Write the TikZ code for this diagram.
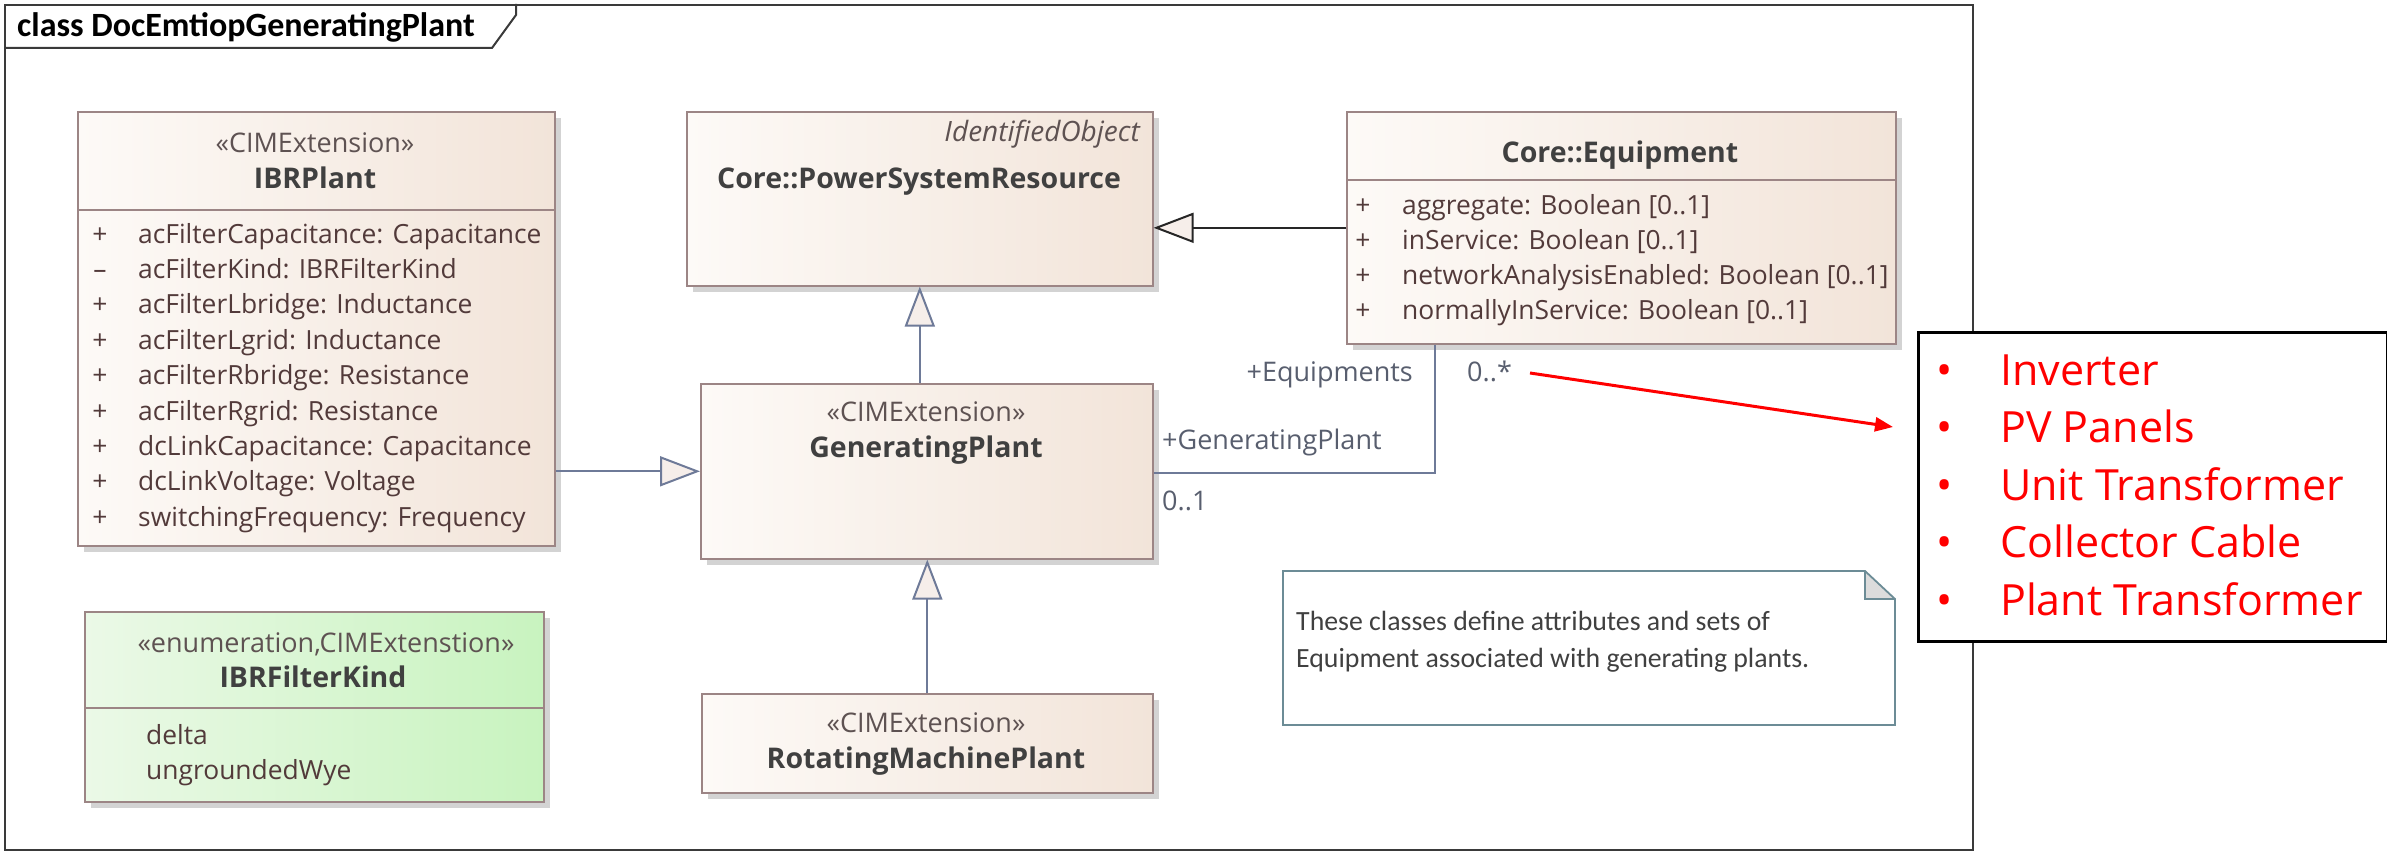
\documentclass[tikz,border=0pt]{standalone}
\usepackage{fontspec}
\setmainfont{Open Sans}
\newfontfamily\carlito{Carlito}
\usetikzlibrary{arrows.meta,shadows}

\definecolor{boxline}{HTML}{9C8585}
\definecolor{boxL}{HTML}{FDFAF7}
\definecolor{boxR}{HTML}{F2E4D9}
\definecolor{enumL}{HTML}{EBF9E7}
\definecolor{enumR}{HTML}{C8F3BF}
\definecolor{attrc}{HTML}{523A3A}
\definecolor{namec}{HTML}{404040}
\definecolor{stereoc}{HTML}{5E5252}
\definecolor{conn}{HTML}{6E7A98}
\definecolor{labc}{HTML}{585E6E}
\definecolor{shadowc}{HTML}{D3D3D3}
\definecolor{notec}{HTML}{6C8C96}
\definecolor{foldc}{HTML}{DCDCDC}
\definecolor{framec}{HTML}{3A3A3A}
\definecolor{tipfill}{HTML}{F6EEEA}

\begin{document}
\begin{tikzpicture}[x=1pt,y=-1pt,
  classbox/.style={draw=boxline, line width=1.6pt, left color=boxL, right color=boxR,
    drop shadow={shadow xshift=6pt, shadow yshift=-6pt, fill=shadowc, opacity=1},
    anchor=north west, inner sep=0pt},
  enumbox/.style={classbox, left color=enumL, right color=enumR},
  sep/.style={draw=boxline, line width=1.6pt},
  attr/.style={font=\fontsize{26.4}{30}\selectfont, text=attrc, inner sep=0pt},
  stereo/.style={font=\fontsize{27}{30}\selectfont, text=stereoc, inner sep=0pt, anchor=base},
  cname/.style={font=\fontsize{28.5}{30}\selectfont\bfseries, text=namec, inner sep=0pt, anchor=base},
  lab/.style={font=\fontsize{27}{30}\selectfont, text=labc, inner sep=0pt},
  gen/.style={draw=conn, line width=2pt, -{Triangle[length=40pt,width=30pt,fill=tipfill,line width=2pt]}},
  genblack/.style={gen, draw=black!85},
  assoc/.style={draw=conn, line width=2pt},
  redlist/.style={font=\fontsize{43}{50}\selectfont, text=red, inner sep=0pt},
]
\useasboundingbox (0,0) rectangle (2387,851);

% diagram frame with its name tab
\node[draw=framec, line width=2pt, minimum width=1968pt, minimum height=845pt,
      anchor=north west, inner sep=0pt] (frame) at (4,4) {};
\coordinate (tabA) at (492,48);
\coordinate (tabB) at (516,15);
\draw[framec, line width=2pt] (frame.north west |- tabA) -- (tabA) -- (tabB) -- (tabB |- frame.north);
\node[font=\fontsize{34}{38}\selectfont\carlito\bfseries, text=black, inner sep=0pt, anchor=base west]
  (title) at (17,37) {class DocEmtiopGeneratingPlant};

% IBRPlant
\node[classbox, minimum width=477pt, minimum height=434pt] (ibr) at (77,111) {};
\node[stereo] (ibrS) at (315,152) {«CIMExtension»};
\node[cname] (ibrN) at (315,188) {IBRPlant};
\coordinate (ibrSep) at (0,210);
\draw[sep] (ibr.west |- ibrSep) -- (ibr.east |- ibrSep);
\foreach \v/\t [count=\i] in {+/acFilterCapacitance: Capacitance,
    –/acFilterKind: IBRFilterKind,
    +/acFilterLbridge: Inductance,
    +/acFilterLgrid: Inductance,
    +/acFilterRbridge: Resistance,
    +/acFilterRgrid: Resistance,
    +/dcLinkCapacitance: Capacitance,
    +/dcLinkVoltage: Voltage,
    +/switchingFrequency: Frequency} {
  \node[attr, anchor=base] (ibrV\i) at (100,{243+35.4*(\i-1)}) {\v};
  \node[attr, anchor=base west] (ibrA\i) at (138,{243+35.4*(\i-1)}) {\t};
}

% Core::PowerSystemResource
\node[classbox, minimum width=466pt, minimum height=174pt] (psr) at (686,111) {};
\node[font=\fontsize{28}{30}\selectfont\itshape, text=stereoc, inner sep=0pt, anchor=base east]
  (psrP) at (1140,141) {IdentifiedObject};
\node[cname] (psrN) at (919,188) {Core::PowerSystemResource};

% GeneratingPlant
\node[classbox, minimum width=452pt, minimum height=175pt] (gp) at (700,383) {};
\node[stereo] (gpS) at (926,421) {«CIMExtension»};
\node[cname] (gpN) at (926,457) {GeneratingPlant};

% RotatingMachinePlant
\node[classbox, minimum width=451pt, minimum height=99pt] (rmp) at (701,693) {};
\node[stereo] (rmpS) at (926,732) {«CIMExtension»};
\node[cname] (rmpN) at (926,768) {RotatingMachinePlant};

% Core::Equipment
\node[classbox, minimum width=549pt, minimum height=232pt] (eq) at (1346,111) {};
\node[cname] (eqN) at (1620,162) {Core::Equipment};
\coordinate (eqSep) at (0,180);
\draw[sep] (eq.west |- eqSep) -- (eq.east |- eqSep);
\foreach \t [count=\i] in {aggregate: Boolean [0..1],
    inService: Boolean [0..1],
    networkAnalysisEnabled: Boolean [0..1],
    normallyInService: Boolean [0..1]} {
  \node[attr, anchor=base] (eqV\i) at (1363,{214+35.2*(\i-1)}) {+};
  \node[attr, anchor=base west] (eqA\i) at (1402,{214+35.2*(\i-1)}) {\t};
}

% IBRFilterKind enumeration
\node[enumbox, minimum width=459pt, minimum height=190pt] (enum) at (84,611) {};
\node[stereo] (enumS) at (326,652) {«enumeration,CIMExtenstion»};
\node[cname] (enumN) at (313,687) {IBRFilterKind};
\coordinate (enumSep) at (0,708);
\draw[sep] (enum.west |- enumSep) -- (enum.east |- enumSep);
\node[attr, anchor=base west] (enumL1) at (146,744) {delta};
\node[attr, anchor=base west] (enumL2) at (146,779) {ungroundedWye};

% generalizations
\draw[gen] (ibr.east |- gp.west) -- (gp.west);
\draw[gen] (gp.north -| psr.south) -- (psr.south);
\draw[gen] (rmp.north) -- (rmp.north |- gp.south);
\draw[genblack] (eq.west) -- (eq.west -| psr.east);

% association GeneratingPlant -- Equipment
\coordinate (bend) at (1435,473);
\draw[assoc] (gp.east |- bend) -- (bend) -- (bend |- eq.south);
\node[lab, anchor=base east] (roleEq) at (1413,381) {+Equipments};
\node[lab, anchor=base west] (multEq) at (1467,381) {0..*};
\node[lab, anchor=base west] (roleGp) at (1162,449) {+GeneratingPlant};
\node[lab, anchor=base west] (multGp) at (1162,510) {0..1};

% note
\coordinate (nA) at (1283,571);
\coordinate (nB) at (1865,571);
\coordinate (nC) at (1895,599);
\coordinate (nD) at (1895,725);
\coordinate (nE) at (1283,725);
\fill[white] (nA) -- (nB) -- (nC) -- (nD) -- (nE) -- cycle;
\fill[foldc] (nB) -- (nC) -- (nB |- nC) -- cycle;
\draw[notec, line width=1.8pt, line join=miter] (nA) -- (nB) -- (nC) -- (nD) -- (nE) -- cycle;
\draw[notec, line width=1.8pt] (nB) -- (nB |- nC) -- (nC);
\node[font=\fontsize{27.8}{37}\selectfont\carlito, text=namec, inner sep=0pt, anchor=base west, align=left]
  (noteT) at (1296,667) {These classes define attributes and sets of\\Equipment associated with generating plants.};

% equipment kinds callout
\node[draw=black, line width=2.5pt, fill=white, minimum width=469pt, minimum height=309pt,
      anchor=north west, inner sep=0pt] (list) at (1917,331) {};
\foreach \t [count=\i] in {Inverter, PV Panels, Unit Transformer, Collector Cable, Plant Transformer} {
  \node[redlist, anchor=base] (bul\i) at (1945,{385+57.5*(\i-1)}) {•};
  \node[redlist, anchor=base west] (item\i) at (2000,{385+57.5*(\i-1)}) {\t};
}
\coordinate (rs) at (1530,373);
\coordinate (re) at (1893,427);
\draw[red, line width=3pt, -{Triangle[length=18pt,width=14pt]}] (rs) -- (re);
\end{tikzpicture}
\end{document}
